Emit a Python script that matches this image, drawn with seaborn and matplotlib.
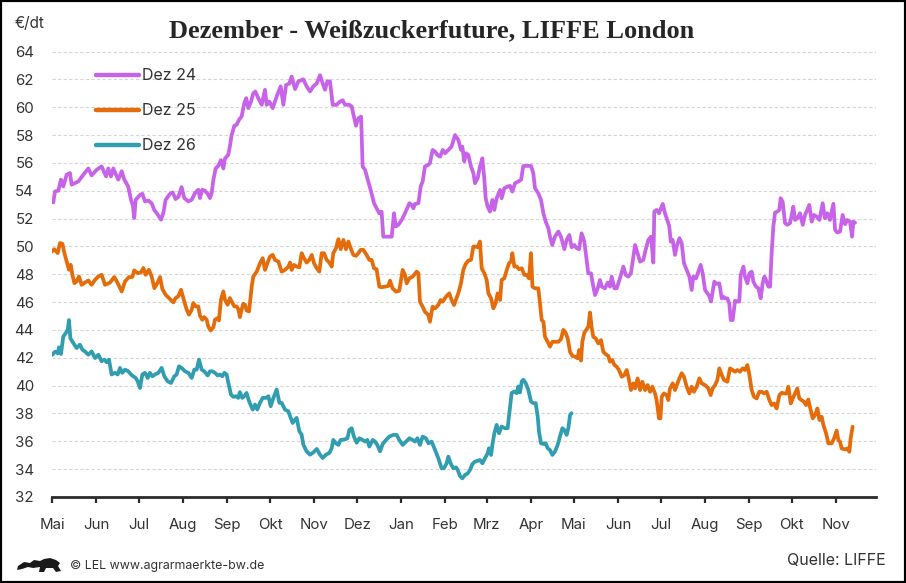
import numpy as np
import pandas as pd
import matplotlib
matplotlib.use("Agg")
import matplotlib.pyplot as plt
from matplotlib.lines import Line2D
from matplotlib.patches import Rectangle, Polygon
import seaborn as sns

# ---------------- data ----------------
START = "2023-05-01"          # first trading month of each contract (May, year 1)
AXIS_END = "2024-11-29"
month_labels = ["Mai", "Jun", "Jul", "Aug", "Sep", "Okt", "Nov", "Dez", "Jan", "Feb",
                "Mrz", "Apr", "Mai", "Jun", "Jul", "Aug", "Sep", "Okt", "Nov"]
y_ticks = list(range(32, 65, 2))
series_names = ["Dez 24", "Dez 25", "Dez 26"]
series_colors = ["#C763E8", "#E46C0A", "#319DB1"]

# days since 1 May of contract year 1, price in EUR/dt
dez24_day = [0, 0.9, 2.1, 4.4, 6.3, 7.9, 10.3, 12.6, 13.8, 18.5, 23.1, 25.5, 27.8, 31.3, 34.8, 37.9, 39.5, 41.4, 43, 44.7,
             46.5, 48.9, 50.7, 53.5, 55.4, 56.8, 57.7, 58.7, 61.7, 63.4, 65.2, 67.6, 69.9, 71.8, 73.4, 76.5, 78.1, 79.7, 82.8, 84.6,
             86.7, 88.6, 90.9, 92.8, 95.6, 98, 100.3, 102.6, 103.8, 105.4, 107.3, 109.2, 110.8, 112, 113.2, 114.8, 116.7, 118.5, 120.2, 121.3,
             123.7, 124.8, 126, 127.9, 129.5, 131.2, 133, 134.9, 136.3, 137.7, 139.6, 141.2, 142.6, 144.7, 147.1, 149.4, 150.6, 152.5, 154.8, 157.6,
             160.4, 162.3, 164.2, 166.5, 168.1, 170.5, 172.8, 176.3, 178.6, 181, 183.3, 185.7, 188, 189.9, 191.5, 193.1, 195, 196.9, 199.7, 202,
             203.9, 205.5, 208.6, 210.2, 211.8, 213.2, 214.9, 216.8, 217.9, 219.6, 221.9, 224.2, 225.9, 227.7, 229.6, 231.2, 232.4, 238.3, 239.9, 241.1,
             242.9, 245.3, 247.6, 250.7, 252.3, 253.5, 254.6, 257, 258.6, 260, 261.6, 264, 265.1, 267, 268.7, 270.3, 272.2, 274.1, 275.7, 278,
             280.3, 282.7, 285, 286.9, 287.8, 289.2, 290.4, 292, 293.9, 295.6, 296.7, 298.6, 300.2, 301.9, 303.3, 304.2, 305.6, 307.2, 308.9, 310.3,
             311.9, 314.3, 315.4, 317.3, 319.6, 321.3, 322.9, 324.8, 327.1, 329, 330.6, 333, 336, 337.6, 338.8, 341.1, 343, 344.7, 346.3, 348.2,
             349.3, 350.9, 352.8, 355.2, 357, 359.4, 361, 362.9, 364.5, 366.4, 368, 369.7, 371.5, 373.4, 375, 376.2, 378.1, 379.7, 380.9, 382.8,
             384.4, 385.6, 387.9, 389.8, 391.4, 392.6, 394.5, 396.1, 398.4, 400.8, 402.4, 404.3, 406.1, 407.8, 409, 410.8, 412.5, 414.8, 416.4, 418.3,
             420.2, 421.8, 422.5, 424.1, 425.8, 428.4, 430, 431.6, 433, 434, 435.4, 437, 438.2, 440.1, 441.7, 443.3, 445.2, 447.1, 448.7, 449.9,
             451.8, 453.4, 455, 456.4, 458.1, 459.7, 461.1, 462.3, 463.4, 464.6, 466.2, 468.1, 469.8, 470.9, 472.1, 473.7, 475.1, 476.1, 477.5, 479.1,
             480.7, 482.1, 483.1, 485, 486.1, 487.8, 489.2, 490.8, 492, 493.8, 495.5, 497.1, 498.5, 499.7, 500.9, 502.5, 503.7, 504.8, 506, 507.2,
             508.8, 510.2, 511.1, 512.5, 514.2, 515.8, 517.7, 518.9, 520, 521.2, 522.8, 524.7, 526.6, 528.2, 529.8, 531.2, 532.9, 534.5, 536.4, 538.3,
             540.6, 542.2, 543.9, 545.7, 548.1, 549.3, 550.9, 552.8, 554.6, 556.3, 557.9, 559.8, 561.2, 562.1, 563.3]
dez24_val = [53.23, 53.16, 53.95, 54.0, 54.8, 54.3, 55.15, 55.27, 54.43, 54.67, 55.3, 55.6, 55.1, 55.5, 55.75, 55.03, 55.6, 55.03, 55.6, 55.2,
             54.8, 55.4, 54.8, 54.3, 53.35, 52.9, 52.04, 53.35, 53.7, 53.78, 53.23, 53.3, 53.1, 52.6, 52.4, 51.92, 52.4, 53.35, 53.78, 53.88,
             53.4, 53.55, 54.26, 53.47, 53.23, 53.35, 53.83, 54.07, 53.47, 54.07, 54.0, 53.78, 53.47, 53.83, 54.8, 55.6, 55.8, 56.2, 55.6, 56.3,
             56.6, 57.2, 58.0, 58.67, 58.74, 59.1, 59.33, 60.3, 60.65, 59.93, 60.4, 61.0, 61.13, 60.65, 60.17, 61.25, 60.17, 60.4, 59.93, 60.77,
             61.5, 60.17, 61.6, 61.7, 62.2, 61.3, 61.85, 62.0, 61.5, 61.13, 61.5, 61.7, 62.3, 61.7, 61.25, 61.85, 61.85, 60.17, 60.17, 60.4,
             60.5, 60.17, 60.17, 60.05, 59.33, 58.67, 59.2, 59.33, 55.74, 55.5, 54.66, 53.8, 53.1, 52.74, 52.38, 52.5, 50.7, 50.7, 52.38, 51.43,
             51.55, 51.9, 52.38, 53.1, 52.98, 52.74, 53.05, 53.1, 54.3, 54.66, 55.74, 55.86, 55.98, 56.93, 56.81, 56.57, 56.45, 56.93, 56.69, 56.93,
             57.17, 58.0, 57.65, 56.93, 57.17, 56.1, 56.69, 56.57, 55.74, 55.26, 54.54, 54.9, 55.74, 56.33, 54.78, 53.46, 52.86, 52.5, 53.34, 52.62,
             53.46, 54.06, 53.46, 54.18, 54.3, 54.35, 53.94, 54.54, 54.66, 54.78, 55.78, 55.78, 55.78, 55.26, 54.18, 53.82, 53.34, 52.38, 51.78, 51.3,
             50.7, 50.1, 50.7, 51.07, 50.7, 49.8, 50.47, 50.82, 49.94, 50.1, 49.87, 49.8, 50.94, 50.35, 49.03, 48.07, 48.07, 47.11, 46.51, 46.99,
             47.59, 47.11, 46.99, 47.4, 47.11, 47.83, 46.99, 46.99, 47.71, 48.55, 47.95, 47.83, 48.07, 49.27, 50.1, 49.5, 48.9, 49.03, 49.75, 50.47,
             50.7, 48.84, 52.5, 52.62, 52.38, 53.05, 52.38, 51.9, 51.43, 50.35, 50.47, 49.39, 49.99, 50.59, 50.23, 48.79, 48.31, 47.83, 46.87, 47.83,
             47.71, 48.19, 48.67, 48.07, 46.87, 46.63, 46.44, 46.04, 46.75, 47.47, 47.31, 47.35, 46.27, 46.39, 46.27, 46.27, 45.91, 44.71, 44.71, 46.1,
             46.04, 46.04, 47.95, 48.55, 47.83, 47.35, 48.07, 48.19, 47.47, 47.11, 46.99, 46.27, 47.35, 47.83, 47.59, 47.11, 47.11, 49.51, 51.43, 52.43,
             52.5, 52.62, 53.46, 53.22, 51.67, 51.55, 51.67, 52.26, 52.86, 51.9, 52.02, 52.38, 51.55, 52.26, 52.62, 52.98, 51.78, 52.26, 52.14, 51.9,
             53.1, 52.02, 52.38, 51.9, 53.06, 51.19, 51.0, 51.07, 52.26, 51.6, 51.9, 51.78, 50.7, 51.78, 51.7]

dez25_day = [0, 1.6, 4, 5.6, 7.3, 8.7, 10.3, 11.9, 13.1, 14.3, 15.7, 17.3, 18.9, 20.8, 23.1, 25.5, 27.8, 30.2, 32.5, 34.8,
             37.2, 40.7, 43.7, 46.1, 48.9, 51.2, 54, 56.3, 57.7, 60.1, 62.4, 64.1, 65.7, 68, 69.9, 71.8, 74.1, 75.8, 77.4, 79.7,
             82.8, 85.1, 86.7, 88.6, 90.5, 92.1, 94.5, 96.1, 98, 99.1, 100.8, 102.6, 103.8, 105.4, 106.8, 108.5, 109.6, 111.3, 113.2, 114.3,
             116.2, 117.1, 118.5, 120.2, 121.3, 123.2, 124.8, 126, 127.9, 129.5, 130.7, 131.8, 133, 134.2, 135.4, 136.5, 138.2, 140.1, 141.2, 143.6,
             145.9, 147.8, 149.4, 151.1, 152.9, 154.8, 156.4, 158.8, 161.1, 163.4, 165.8, 167, 168.1, 169.8, 171.6, 173.5, 175.1, 176.8, 178.6, 180.5,
             182.2, 183.8, 185.7, 187.5, 189.2, 190.8, 192.7, 194.5, 196.2, 197.3, 199.2, 200.9, 202.5, 204.4, 206.2, 207.9, 209.5, 211.4, 213.2, 214.9,
             216.5, 218.4, 220.7, 222.6, 224.2, 225.9, 227.7, 229.6, 231.2, 233.6, 235.9, 237.1, 238.9, 241.3, 243.6, 246, 247.6, 248.8, 250.7, 253,
             255.8, 257, 258.1, 260, 261.6, 264, 265.1, 267, 268.7, 271, 272.6, 274, 276.4, 278.7, 280.3, 282, 285, 286.9, 288.5, 290.2,
             292, 293.9, 295.6, 297.2, 298.6, 300.2, 301.4, 303.3, 304.9, 306.1, 308, 309.6, 311.2, 312.6, 314.3, 315.4, 317.3, 319, 320.6, 322,
             322.9, 324.3, 326, 327.6, 329.5, 331.3, 333, 334.6, 336, 337, 338.8, 341.1, 342.3, 343.5, 344.7, 345.8, 347.7, 349.3, 351, 352.8,
             355.2, 357, 358.7, 360.3, 361.7, 363.4, 365, 366.9, 368.7, 369.7, 371.1, 372, 373.4, 375, 376.2, 377.4, 378.6, 379.7, 381.4, 383.2,
             385.1, 386.7, 388.4, 390.2, 391.4, 393, 394.5, 396.1, 397.7, 399.6, 401.5, 403.1, 404.3, 406.1, 407.8, 409, 410.8, 412.5, 414.1, 416,
             417.8, 419.5, 421.1, 423, 424.1, 425.8, 426.8, 427.7, 429.3, 431.2, 432.3, 433.5, 435.4, 437, 438.7, 440.1, 441.7, 443.3, 445.2, 447.1,
             448.7, 450.3, 452.2, 454.1, 455.7, 458.1, 460.4, 462, 463.4, 465.1, 466.7, 468.1, 469.8, 471.4, 473.7, 475.6, 477.5, 479.1, 480.7, 482.6,
             484.5, 486.1, 487.8, 489.2, 490.8, 492.4, 494.3, 496.2, 497.8, 499.4, 501.3, 503.2, 504.8, 506.5, 508.3, 510.2, 511.9, 513.5, 515.3, 516.5,
             518.2, 519.6, 521.2, 522.8, 524.2, 525.9, 527.5, 528.9, 530.5, 532.2, 533.6, 535.2, 536.9, 538.3, 539.9, 541.1, 543, 544.6, 546.9, 548.6,
             550.4, 551.6, 552.8, 553.9, 556.3, 557.9, 559.3, 560.2, 561.6]
dez25_val = [49.64, 49.8, 49.52, 50.24, 50.19, 49.52, 48.92, 48.32, 48.68, 47.96, 47.36, 47.48, 47.84, 47.24, 47.4, 47.55, 47.24, 47.6, 47.84, 47.96,
             47.24, 47.4, 47.8, 47.36, 46.76, 47.48, 47.8, 47.8, 48.28, 48.08, 48.13, 48.45, 47.96, 48.32, 47.84, 47.0, 47.4, 47.8, 46.94, 46.53,
             46.22, 45.98, 46.29, 46.41, 46.89, 46.29, 45.45, 45.1, 45.45, 45.93, 45.69, 45.69, 45.02, 44.73, 44.92, 44.73, 44.25, 43.96, 44.2, 44.73,
             44.85, 44.68, 46.17, 46.77, 46.17, 45.81, 46.29, 46.05, 45.69, 45.69, 45.49, 44.92, 45.45, 45.88, 45.81, 45.4, 45.33, 47.11, 47.83, 48.19,
             48.79, 49.15, 48.31, 48.79, 49.27, 49.39, 49.03, 48.91, 48.19, 48.31, 48.55, 48.84, 48.31, 48.67, 48.55, 48.5, 49.51, 49.15, 48.84, 49.03,
             49.39, 48.79, 48.43, 48.19, 49.51, 49.51, 49.03, 48.84, 48.55, 49.51, 49.87, 50.52, 49.8, 50.47, 49.8, 50.35, 49.87, 49.39, 49.32, 49.51,
             49.75, 49.75, 49.39, 49.03, 49.03, 48.43, 48.36, 47.11, 47.07, 47.11, 47.16, 47.54, 46.99, 46.75, 46.82, 48.31, 47.95, 47.35, 47.71, 47.83,
             48.19, 48.07, 46.03, 45.67, 45.31, 45.07, 44.59, 45.67, 45.55, 45.79, 46.15, 46.03, 46.39, 46.63, 46.15, 45.79, 46.63, 47.35, 48.31, 48.74,
             48.98, 49.03, 49.99, 49.99, 49.94, 50.35, 48.43, 48.07, 47.59, 46.63, 46.27, 45.55, 45.91, 46.63, 46.15, 47.59, 47.71, 48.31, 48.79, 48.91,
             49.51, 48.55, 48.55, 48.36, 48.43, 47.95, 47.95, 47.71, 49.51, 47.11, 46.99, 46.99, 45.91, 44.71, 44.59, 43.51, 43.15, 42.8, 43.15, 43.15,
             43.15, 43.33, 44.0, 43.8, 43.39, 42.43, 42.13, 42.08, 41.96, 42.56, 41.8, 43.15, 43.8, 44.04, 44.24, 45.25, 44.12, 43.51, 43.39, 43.03,
             43.27, 42.43, 42.26, 42.13, 41.72, 41.84, 41.48, 41.36, 41.12, 40.64, 40.76, 41.12, 40.64, 39.68, 40.16, 39.8, 40.52, 39.68, 40.28, 39.68,
             40.04, 39.56, 39.92, 39.44, 38.96, 37.65, 37.65, 39.2, 39.44, 39.32, 38.96, 39.8, 40.16, 39.68, 40.16, 40.52, 40.89, 40.64, 39.92, 39.44,
             39.92, 39.56, 39.92, 40.52, 40.16, 40.04, 39.8, 39.32, 39.8, 40.04, 40.4, 41.24, 40.76, 40.4, 40.28, 41.24, 41.12, 41.0, 41.12, 41.0,
             41.24, 41.12, 41.48, 40.76, 39.68, 39.2, 39.08, 39.56, 39.56, 39.44, 39.56, 38.96, 38.6, 38.72, 38.36, 39.32, 39.49, 39.44, 39.44, 39.92,
             38.72, 39.08, 39.44, 39.8, 39.08, 38.96, 38.84, 38.6, 39.0, 38.24, 37.65, 37.88, 38.36, 37.53, 37.76, 37.17, 36.57, 35.85, 35.85, 36.21,
             36.77, 36.09, 35.97, 35.49, 35.42, 35.49, 35.25, 36.21, 37.05]

dez26_day = [0, 2.1, 4, 4.9, 6.3, 7.9, 9.6, 11, 11.9, 12.9, 15, 17.3, 19.6, 21.3, 23.1, 25.5, 27.8, 30.2, 32.5, 34.8,
             36.7, 38.3, 40, 41.8, 44.2, 46.1, 47.7, 49.3, 51.2, 53.5, 55.4, 57, 58.7, 60.1, 61.7, 63.4, 65.2, 67.1, 68.7, 70.4,
             72.2, 74.6, 76.9, 78.8, 81.1, 83.5, 85.8, 87.4, 89.1, 90.9, 93.3, 95.6, 98, 99.8, 101.5, 103.1, 105, 106.8, 109.2, 110.8,
             112.5, 114.3, 116.2, 117.8, 119.5, 120.9, 122.5, 123.7, 125.6, 127.2, 128.9, 130.7, 131.8, 133.5, 134.9, 136.5, 138.2, 140.8, 142.4, 144,
             145.9, 147.8, 150.1, 151.8, 153.4, 155.3, 157.6, 159.5, 161.1, 163.4, 165.8, 167, 168.8, 170.5, 171.6, 173.5, 175.1, 176.3, 178.6, 181,
             183.3, 185.7, 188, 189.9, 192.2, 194.5, 196.2, 197.3, 199.2, 200.9, 202.5, 205.5, 207.2, 208.6, 210.2, 211.8, 213.7, 215.6, 217.9, 219.6,
             221.2, 222.6, 225, 226.6, 228.2, 230.1, 232, 234.3, 236.6, 239.4, 241.8, 243.6, 246, 248.3, 250.7, 253, 254.6, 256.3, 258.1, 260,
             262.3, 264, 266.3, 268.7, 271, 273.3, 274.9, 276.8, 278, 279.6, 281.5, 283.4, 284.6, 286.2, 287.8, 289.7, 291.6, 293.2, 294.9, 296.7,
             298.6, 300.2, 301.9, 303.7, 305.6, 306.5, 308, 308.9, 310.3, 311.9, 313.6, 315.4, 317.8, 319.6, 321.3, 322.4, 324.3, 326, 327.1, 328.3,
             329.5, 330.6, 332.3, 334.1, 336, 337.6, 339.3, 340.7, 341.6, 343, 344.7, 346.3, 347.7, 349.3, 351, 352.8, 354.7, 356.3, 358, 359.4,
             361, 362.2, 363.4, 364.5]
dez26_val = [42.2, 42.44, 42.32, 42.75, 42.27, 43.52, 43.76, 44.0, 44.71, 43.4, 43.05, 42.7, 42.94, 42.58, 42.46, 42.22, 42.46, 41.98, 42.22, 41.75,
             41.87, 41.68, 41.87, 40.8, 40.92, 40.8, 41.27, 40.92, 41.15, 41.03, 40.8, 40.67, 40.55, 40.31, 39.83, 40.8, 40.92, 40.55, 40.92, 40.67,
             40.8, 40.92, 41.27, 40.67, 40.31, 40.19, 40.67, 40.8, 41.39, 41.27, 41.03, 40.92, 40.55, 41.15, 41.15, 41.87, 41.15, 41.03, 40.73, 41.03,
             41.03, 40.92, 40.73, 40.8, 40.67, 40.92, 40.8, 40.19, 39.35, 39.19, 39.24, 39.12, 39.53, 39.12, 39.24, 39.47, 38.88, 38.28, 38.64, 38.28,
             38.76, 39.12, 39.12, 39.24, 38.52, 39.12, 39.72, 38.76, 38.76, 38.28, 38.16, 37.8, 37.32, 37.56, 37.68, 36.72, 36.48, 35.76, 35.28, 35.04,
             35.2, 35.45, 35.04, 34.8, 35.04, 35.16, 35.5, 36.1, 35.86, 35.74, 36.1, 36.14, 36.22, 36.82, 36.94, 36.34, 35.9, 36.22, 36.1, 35.98,
             36.1, 35.62, 36.1, 35.98, 35.74, 35.28, 35.81, 36.1, 36.34, 36.46, 36.46, 36.1, 35.74, 35.98, 36.22, 36.1, 35.98, 36.22, 35.74, 36.34,
             36.22, 35.86, 35.98, 35.38, 34.78, 34.06, 34.06, 34.42, 34.9, 34.42, 34.06, 34.13, 33.94, 33.5, 33.34, 33.58, 33.7, 33.94, 34.37, 34.54,
             34.61, 34.66, 34.42, 34.78, 35.14, 35.5, 35.02, 35.74, 36.58, 37.18, 36.58, 37.06, 36.94, 36.94, 38.5, 39.46, 39.58, 39.46, 39.94, 39.51,
             40.3, 40.42, 40.18, 39.7, 38.86, 38.74, 38.74, 37.78, 36.7, 35.86, 35.81, 35.86, 35.5, 35.38, 35.02, 35.26, 35.74, 36.34, 36.94, 36.82,
             36.46, 36.94, 37.9, 38.02]

# ---------------- frame ----------------
start = pd.Timestamp(START)
frames = []
for name, d, v in [("Dez 24", dez24_day, dez24_val), ("Dez 25", dez25_day, dez25_val), ("Dez 26", dez26_day, dez26_val)]:
    frames.append(pd.DataFrame({
        "date": start + pd.to_timedelta(np.asarray(d, dtype=float), unit="D"),
        "price": v,
        "contract": name,
    }))
df = pd.concat(frames, ignore_index=True)
palette = dict(zip(series_names, series_colors))

# ---------------- style ----------------
sns.set_theme(style="white")
plt.rcParams["font.family"] = ["Inter", "DejaVu Sans"]
TXT = "#333333"

W, H = 906, 583
fig = plt.figure(figsize=(W / 100, H / 100), dpi=100)
fig.patch.set_facecolor("white")
ax = fig.add_axes([52 / W, 1 - 497 / H, (876 - 52) / W, (497 - 51.5) / H])

sns.lineplot(data=df, x="date", y="price", hue="contract", palette=palette,
             estimator=None, sort=False, linewidth=2.7, legend=False, ax=ax)

ax.set_xlim(pd.Timestamp(START), pd.Timestamp(AXIS_END))
ax.set_ylim(min(y_ticks), max(y_ticks))
tick_dates = pd.date_range(START, periods=len(month_labels), freq="MS")
ax.set_xticks(tick_dates)
ax.set_xticklabels(month_labels)
ax.set_yticks(y_ticks)
ax.set_yticklabels([str(t) for t in y_ticks])
ax.set_xlabel("")
ax.set_ylabel("")

ax.yaxis.grid(True, color="#d6d6d6", linestyle=(0, (3, 2)), linewidth=0.8)
ax.xaxis.grid(False)
for s in ["left", "right", "top"]:
    ax.spines[s].set_visible(False)
ax.spines["bottom"].set_color("#2b2b2b")
ax.spines["bottom"].set_linewidth(2.0)
ax.tick_params(axis="x", direction="out", length=4.5, width=1.6, color="#2b2b2b",
               pad=10.5, labelsize=10.8, labelcolor=TXT, bottom=True)
ax.tick_params(axis="y", length=0, pad=13, labelsize=10.8, labelcolor=TXT)
for lab in ax.get_yticklabels():
    lab.set_horizontalalignment("right")

# legend
handles = [Line2D([0], [0], color=c, lw=3.2) for c in series_colors]
leg = ax.legend(handles, series_names, loc="upper left", bbox_to_anchor=(96 / W, 1 - 68.5 / H),
                bbox_transform=fig.transFigure, frameon=False, fontsize=11.5,
                handlelength=2.7, handletextpad=0.2, labelspacing=1.25, borderpad=0, borderaxespad=0)
for t in leg.get_texts():
    t.set_color(TXT)

# texts
fig.text(432 / W, 1 - 31 / H, "Dezember - Weißzuckerfuture, LIFFE London", ha="center", va="center",
         fontsize=19, fontweight="bold", family=["Liberation Serif", "DejaVu Serif"], color="#262626")
fig.text(15 / W, 1 - 24 / H, "€/dt", ha="left", va="center", fontsize=11, color=TXT)
fig.text(886 / W, 1 - 560 / H, "Quelle: LIFFE", ha="right", va="center", fontsize=11.5, color=TXT)
fig.text(70 / W, 1 - 566 / H, "© LEL www.agrarmaerkte-bw.de", ha="left", va="center", fontsize=8.9, color=TXT)

# small lion emblem (decorative)
lion = [(18, 566), (24, 562), (30, 563), (34, 560), (40, 561), (44, 559), (50, 558), (56, 560), (60, 563),
        (58, 566), (61, 571), (56, 572), (53, 568), (46, 568), (44, 572), (39, 572), (40, 567), (33, 568),
        (28, 567), (22, 569), (17, 570)]
fig.patches.append(Polygon([(x / W, 1 - y / H) for x, y in lion], closed=True, transform=fig.transFigure,
                           facecolor="#1a1a1a", edgecolor="none"))

# outer frame
fig.patches.append(Rectangle((0, 0), 1, 1, transform=fig.transFigure, fill=False,
                             edgecolor="black", linewidth=3.0))

fig.savefig("out.png", dpi=100, facecolor="white")
